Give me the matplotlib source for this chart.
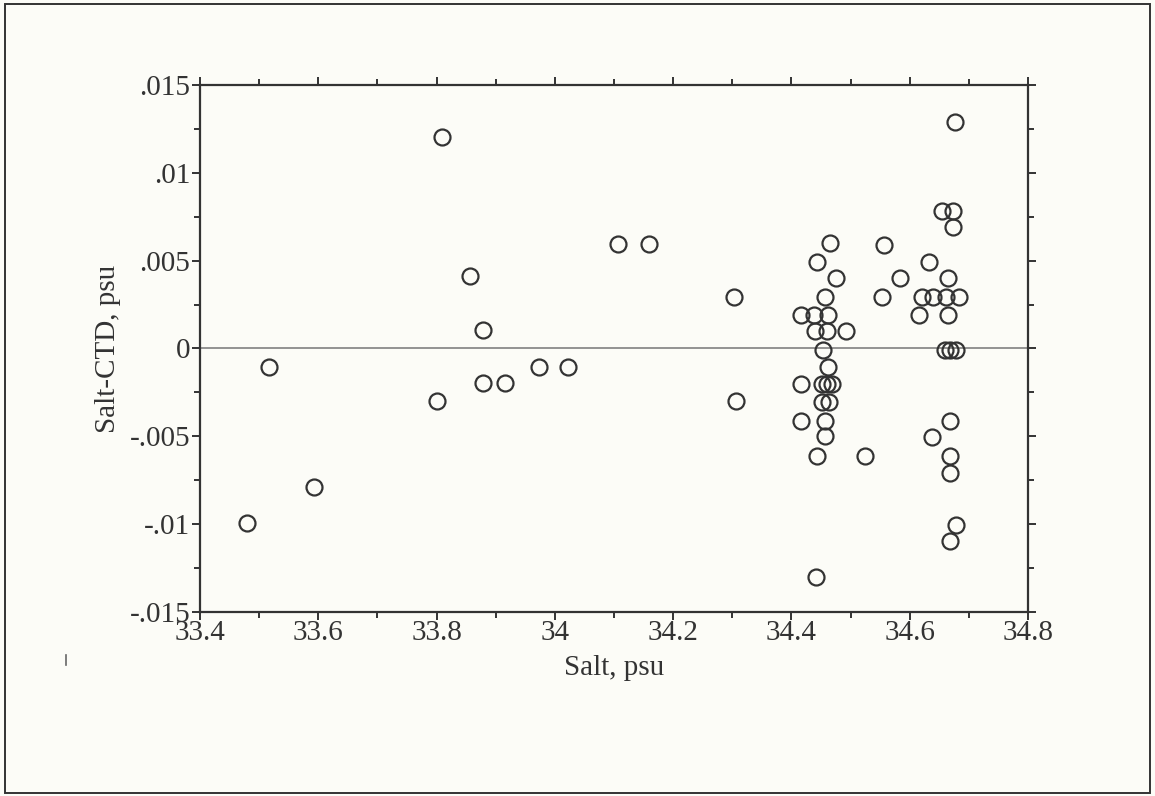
import matplotlib
matplotlib.use("Agg")
import matplotlib.pyplot as plt
from matplotlib.lines import Line2D
from matplotlib.patches import Rectangle

# Salinity residuals: bottle salt minus CTD salt, against bottle salt
salt = [
    33.479, 33.517, 33.593, 33.801, 33.809, 33.857, 33.879, 33.879,
    33.916, 33.974, 34.023, 34.106, 34.159, 34.303, 34.306,
    34.416, 34.439, 34.462, 34.443, 34.465, 34.475, 34.457, 34.440,
    34.461, 34.492, 34.454, 34.462, 34.416, 34.451, 34.460, 34.468,
    34.451, 34.464, 34.416, 34.456, 34.456, 34.443, 34.442, 34.525,
    34.553, 34.557, 34.584, 34.616, 34.620, 34.633, 34.640, 34.654,
    34.662, 34.665, 34.665, 34.674, 34.674, 34.677, 34.683, 34.659,
    34.669, 34.679, 34.669, 34.638, 34.669, 34.669, 34.679, 34.668,
]
diff = [
    -0.00995, -0.00104, -0.00787, -0.0030, 0.01202, 0.0041, 0.00105, -0.00198,
    -0.00198, -0.00107, -0.00107, 0.00595, 0.00595, 0.00295, -0.0030,
    0.0019, 0.0019, 0.0019, 0.0049, 0.0060, 0.0040, 0.00295, 0.0010,
    0.0010, 0.0010, -0.0001, -0.00107, -0.0020, -0.0020, -0.0020, -0.0020,
    -0.00306, -0.00306, -0.0041, -0.0041, -0.0050, -0.0061, -0.0130, -0.0061,
    0.00295, 0.0059, 0.0040, 0.0019, 0.00295, 0.0049, 0.00295, 0.00784,
    0.00295, 0.0040, 0.0019, 0.00784, 0.00693, 0.0129, 0.00295, -0.0001,
    -0.0001, -0.0001, -0.0041, -0.00506, -0.0061, -0.0071, -0.01005, -0.01096,
]

x_ticks = [33.4, 33.6, 33.8, 34.0, 34.2, 34.4, 34.6, 34.8]
x_labels = ["33.4", "33.6", "33.8", "34", "34.2", "34.4", "34.6", "34.8"]
y_ticks = [-0.015, -0.01, -0.005, 0.0, 0.005, 0.01, 0.015]
y_labels = ["-.015", "-.01", "-.005", "0", ".005", ".01", ".015"]

plt.rcParams["font.family"] = ["Liberation Serif", "DejaVu Serif"]
ink = "#333333"
paper = "#fcfcf7"

fig = plt.figure(figsize=(11.55, 7.96), dpi=100, facecolor=paper)
ax = fig.add_axes([0.1732, 0.2312, 0.7168, 0.662], facecolor=paper)

# zero reference line
ax.axhline(0, color="#8a8a8a", lw=1.3, zorder=1)

ax.plot(salt, diff, linestyle="none", marker="o", markersize=11.5,
        markerfacecolor="none", markeredgecolor=ink, markeredgewidth=1.6,
        zorder=3)

ax.set_xlim(33.4, 34.8)
ax.set_ylim(-0.015, 0.015)
ax.set_xticks(x_ticks)
ax.set_xticklabels(x_labels)
ax.set_yticks(y_ticks)
ax.set_yticklabels(y_labels)
ax.set_xticks([v + 0.1 for v in x_ticks[:-1]], minor=True)
ax.set_yticks([v + 0.0025 for v in y_ticks[:-1]], minor=True)

ax.tick_params(which="both", direction="out", top=True, right=True,
               color=ink, width=1.4)
ax.tick_params(which="major", length=6, labelsize=21, labelcolor=ink, pad=1)
ax.tick_params(which="minor", length=4)
ax.tick_params(axis="x", which="major", pad=0)
for s in ax.spines.values():
    s.set_color(ink)
    s.set_linewidth(1.6)

ax.set_xlabel("Salt, psu", fontsize=21, color=ink, labelpad=6)
ax.set_ylabel("Salt-CTD, psu", fontsize=21, color=ink, labelpad=6)

# page frame around the figure, plus the stray scan mark
fig.patches.append(Rectangle((0.0045, 0.004), 0.991, 0.991,
                             transform=fig.transFigure, fill=False,
                             edgecolor=ink, lw=1.4))
fig.lines.append(Line2D([0.057, 0.057], [1 - 665 / 796, 1 - 655 / 796],
                        transform=fig.transFigure, color="#666666", lw=1.2))

fig.savefig("out.png", dpi=100, facecolor=paper)
